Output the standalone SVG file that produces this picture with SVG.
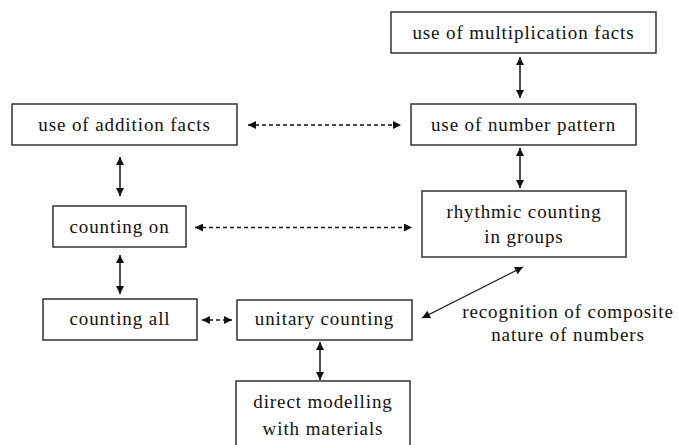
<svg xmlns="http://www.w3.org/2000/svg" width="678" height="445" viewBox="0 0 678 445">
<style>
.box{fill:#fff;stroke:#333;stroke-width:1.5}
.t{font-family:"Liberation Serif","Times New Roman",serif;font-size:19px;letter-spacing:0.9px;fill:#111;text-anchor:middle}
.c{stroke:#111;stroke-width:1.5;fill:none;marker-start:url(#ah);marker-end:url(#ah)}
.d{stroke-dasharray:4 3;stroke-width:1.3}
</style>
<defs>
<marker id="ah" viewBox="0 0 10 10" refX="10" refY="5" markerWidth="9" markerHeight="8" markerUnits="userSpaceOnUse" orient="auto-start-reverse">
<path d="M0,0 L10,5 L0,10 z" fill="#111"/>
</marker>
</defs>
<rect width="678" height="445" fill="#fff"/>
<g id="connectors">
<line class="c" x1="520" y1="57" x2="520" y2="98"/>
<line class="c" x1="520" y1="148" x2="520" y2="188"/>
<line class="c" x1="120" y1="157" x2="120" y2="196"/>
<line class="c" x1="120" y1="255" x2="120" y2="294"/>
<line class="c" x1="320" y1="342" x2="320" y2="380"/>
<line class="c d" x1="248" y1="125" x2="401" y2="125"/>
<line class="c d" x1="195" y1="227.5" x2="412" y2="227.5"/>
<line class="c d" x1="202" y1="320" x2="232" y2="320"/>
<line class="c" style="stroke-width:1.2" x1="422" y1="318" x2="523" y2="267"/>
</g>
<g id="n-mult">
<rect class="box" x="391" y="12" width="265" height="41"/>
<text class="t" x="523.5" y="39">use of multiplication facts</text>
</g>
<g id="n-pattern">
<rect class="box" x="411" y="104" width="225" height="41"/>
<text class="t" x="523.5" y="131">use of number pattern</text>
</g>
<g id="n-rhythmic">
<rect class="box" x="422" y="191" width="204" height="66"/>
<text class="t" x="524" y="218">rhythmic counting</text>
<text class="t" x="524" y="243">in groups</text>
</g>
<g id="n-addition">
<rect class="box" x="12" y="104" width="225" height="41"/>
<text class="t" x="124.5" y="131">use of addition facts</text>
</g>
<g id="n-on">
<rect class="box" x="53" y="206" width="133" height="41"/>
<text class="t" x="119.5" y="233">counting on</text>
</g>
<g id="n-all">
<rect class="box" x="43" y="299" width="154" height="41"/>
<text class="t" x="120" y="325">counting all</text>
</g>
<g id="n-unitary">
<rect class="box" x="237" y="300" width="175" height="40"/>
<text class="t" x="324.5" y="325">unitary counting</text>
</g>
<g id="n-direct">
<rect class="box" x="236" y="381" width="174" height="70"/>
<text class="t" x="323" y="408">direct modelling</text>
<text class="t" x="323" y="435">with materials</text>
</g>
<g id="label">
<text class="t" x="568" y="318">recognition of composite</text>
<text class="t" x="568" y="341">nature of numbers</text>
</g>
</svg>
